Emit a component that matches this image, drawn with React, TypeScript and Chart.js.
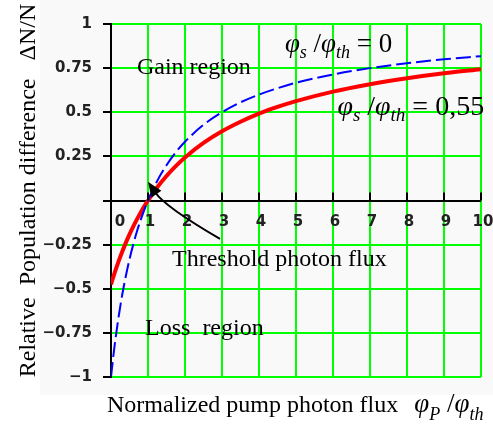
import React, { useEffect, useRef } from 'react';
import { Chart, registerables } from 'chart.js';
Chart.register(...registerables);

// Normalized pump photon flux (x) and relative population difference values
const xValues = [0, 0.05, 0.1, 0.2, 0.3, 0.4, 0.5, 0.6, 0.7, 0.8, 0.9, 1, 1.25, 1.5, 1.75, 2, 2.5, 3, 3.5, 4, 4.5, 5, 6, 7, 8, 9, 10];
const blueValues = [-1, -0.905, -0.818, -0.667, -0.538, -0.429, -0.333, -0.25, -0.176, -0.111, -0.053, 0, 0.111, 0.2, 0.273, 0.333, 0.429, 0.5, 0.556, 0.6, 0.636, 0.667, 0.714, 0.75, 0.778, 0.8, 0.818];
const redValues = [-0.476, -0.442, -0.409, -0.348, -0.292, -0.24, -0.192, -0.148, -0.107, -0.069, -0.033, 0, 0.075, 0.139, 0.195, 0.244, 0.326, 0.392, 0.446, 0.492, 0.53, 0.563, 0.617, 0.659, 0.693, 0.721, 0.744];

const xTickValues = [0, 1, 2, 3, 4, 5, 6, 7, 8, 9, 10];
const xTickLabels = ['0', '1', '2', '3', '4', '5', '6', '7', '8', '9', '10'];
const yTickValues = [-1, -0.75, -0.5, -0.25, 0, 0.25, 0.5, 0.75, 1];
const yTickLabels = ['\u22121', '\u22120.75', '\u22120.5', '\u22120.25', '', '0.25', '0.5', '0.75', '1'];

const yTitle = 'Relative  Population difference   \u0394N/N';
const xTitle = 'Normalized pump photon flux  ';
const gainText = 'Gain region';
const lossText = 'Loss  region';
const thresholdText = 'Threshold photon flux';

// annotation anchors in data coordinates
const gainAt = [0.7, 0.714];
const lossAt = [0.92, -0.763];
const thresholdAt = [1.65, -0.372];
const label0At = [4.7, 0.84];
const label55At = [6.12, 0.487];
const arrowStart = [2.946, -0.218];
const arrowCtrl = [1.46, -0.036];
const arrowTip = [1.0, 0.106];

const SERIF = '"Liberation Serif", "Times New Roman", serif';

type Part = { t: string; size: number; italic?: boolean; dy?: number };

function drawRich(ctx: CanvasRenderingContext2D, x: number, y: number, parts: Part[]) {
  let cx = x;
  ctx.textAlign = 'left';
  ctx.textBaseline = 'alphabetic';
  for (const p of parts) {
    ctx.font = `${p.italic ? 'italic ' : ''}${p.size}px ${SERIF}`;
    ctx.fillText(p.t, cx, y + (p.dy || 0));
    cx += ctx.measureText(p.t).width;
  }
}

function ratioParts(F: number, tail: string, sub1: string, subDy = 0.22): Part[] {
  const s = Math.round(F * 0.68);
  const dy = Math.round(F * subDy);
  return [
    { t: '\u03C6', size: F, italic: true },
    { t: sub1, size: s, italic: true, dy },
    { t: ' /', size: F },
    { t: '\u03C6', size: F, italic: true },
    { t: 'th', size: s, italic: true, dy },
    { t: tail, size: F },
  ];
}

const overlay = {
  id: 'overlay',
  beforeDraw(chart: any) {
    const ctx = chart.ctx;
    ctx.save();
    ctx.fillStyle = '#f9f9f9';
    ctx.fillRect(40, 0, chart.width - 40, 395);
    ctx.restore();
  },
  afterDatasetsDraw(chart: any) {
    const ctx: CanvasRenderingContext2D = chart.ctx;
    const xs = chart.scales.x;
    const ys = chart.scales.y;
    const px = (v: number) => xs.getPixelForValue(v);
    const py = (v: number) => ys.getPixelForValue(v);
    const area = chart.chartArea;
    ctx.save();
    // x tick marks (upward) and labels
    const y0 = py(0);
    ctx.strokeStyle = '#000';
    ctx.lineWidth = 2;
    ctx.fillStyle = '#222';
    ctx.font = 'bold 15px "DejaVu Sans", sans-serif';
    ctx.textAlign = 'center';
    ctx.textBaseline = 'middle';
    xTickValues.forEach((v, i) => {
      const x = px(v);
      ctx.beginPath();
      ctx.moveTo(x, y0 - 8);
      ctx.lineTo(x, y0);
      ctx.stroke();
      ctx.fillText(xTickLabels[i], x + (v === 0 ? 9 : 2), y0 + 22);
    });

    ctx.fillStyle = '#000';
    // region texts
    ctx.font = `24px ${SERIF}`;
    ctx.textAlign = 'left';
    ctx.textBaseline = 'alphabetic';
    ctx.fillText(gainText, px(gainAt[0]), py(gainAt[1]));
    ctx.fillText(lossText, px(lossAt[0]), py(lossAt[1]));
    ctx.fillText(thresholdText, px(thresholdAt[0]), py(thresholdAt[1]));

    drawRich(ctx, px(label0At[0]), py(label0At[1]), ratioParts(27, ' = 0', 's'));
    drawRich(ctx, px(label55At[0]), py(label55At[1]), ratioParts(28, ' = 0,55', 's'));

    // arrow
    const sx = px(arrowStart[0]), sy = py(arrowStart[1]);
    const cx = px(arrowCtrl[0]), cy = py(arrowCtrl[1]);
    const tx = px(arrowTip[0]), ty = py(arrowTip[1]);
    let dx = tx - cx, dy = ty - cy;
    const len = Math.hypot(dx, dy);
    dx /= len; dy /= len;
    const headLen = 15, headW = 6;
    const bx = tx - dx * headLen, by = ty - dy * headLen;
    ctx.beginPath();
    ctx.moveTo(sx, sy);
    ctx.quadraticCurveTo(cx, cy, bx + dx * 2, by + dy * 2);
    ctx.lineWidth = 2;
    ctx.strokeStyle = '#000';
    ctx.stroke();
    ctx.beginPath();
    ctx.moveTo(tx, ty);
    ctx.lineTo(bx - dy * headW, by + dx * headW);
    ctx.lineTo(bx + dy * headW, by - dx * headW);
    ctx.closePath();
    ctx.fill();

    // y title
    ctx.save();
    ctx.translate(35, (area.top + area.bottom) / 2 - 10);
    ctx.rotate(-Math.PI / 2);
    ctx.font = `24px ${SERIF}`;
    ctx.textAlign = 'center';
    ctx.textBaseline = 'alphabetic';
    ctx.fillText(yTitle, 0, 0);
    ctx.restore();

    // x title
    ctx.font = `24px ${SERIF}`;
    ctx.textAlign = 'left';
    ctx.textBaseline = 'alphabetic';
    const tw = ctx.measureText(xTitle).width;
    ctx.fillText(xTitle, 107, area.bottom + 35);
    drawRich(ctx, 107 + tw + 4, area.bottom + 35, ratioParts(27, '', 'P', 0.3));
    ctx.restore();
  },
};

export default function App() {
  const ref = useRef<HTMLCanvasElement | null>(null);
  useEffect(() => {
    if (!ref.current) return;
    const chart = new Chart(ref.current, {
      type: 'line',
      data: {
        datasets: [
          {
            label: '\u03C6s/\u03C6th = 0',
            data: xValues.map((x, i) => ({ x, y: blueValues[i] })),
            borderColor: '#0000ff',
            borderWidth: 2,
            borderDash: [15, 5],
            pointRadius: 0,
            cubicInterpolationMode: 'monotone',
            fill: false,
          },
          {
            label: '\u03C6s/\u03C6th = 0,55',
            data: xValues.map((x, i) => ({ x, y: redValues[i] })),
            borderColor: '#ff0000',
            borderWidth: 4,
            pointRadius: 0,
            cubicInterpolationMode: 'monotone',
            fill: false,
          },
        ],
      },
      options: {
        animation: false,
        responsive: false,
        layout: { padding: { left: 0, top: 24, right: 12, bottom: 48 } },
        plugins: { legend: { display: false }, tooltip: { enabled: false } },
        scales: {
          x: {
            type: 'linear',
            position: { y: 0 } as any,
            min: 0,
            max: 10,
            afterBuildTicks: (s: any) => {
              s.ticks = xTickValues.map((v) => ({ value: v }));
            },
            grid: {
              color: (c: any) => (c.tick && c.tick.value === 0 ? '#000' : '#00ff00'),
              lineWidth: 2,
              drawTicks: false,
            },
            border: { display: false },
            ticks: { display: false },
          },
          y: {
            type: 'linear',
            min: -1,
            max: 1,
            afterBuildTicks: (s: any) => {
              s.ticks = yTickValues.map((v) => ({ value: v }));
            },
            afterFit: (s: any) => {
              s.width = 111;
            },
            grid: {
              color: (c: any) => (c.tick && c.tick.value === 0 ? '#000' : '#00ff00'),
              lineWidth: 2,
              tickColor: '#000',
              tickLength: 8,
              tickWidth: 2,
            } as any,
            border: { display: true, color: '#000', width: 2 },
            ticks: {
              padding: 11,
              color: '#222',
              font: { family: '"DejaVu Sans", sans-serif', size: 15, weight: 'bold' },
              callback: (v: any) => {
                const i = yTickValues.indexOf(Number(v));
                return i >= 0 ? yTickLabels[i] : '';
              },
            },
          },
        },
      },
      plugins: [overlay],
    });
    return () => chart.destroy();
  }, []);
  return (
    <div style={{ position: 'absolute', left: 0, top: 0, width: 493, height: 425 }}>
      <canvas ref={ref} width={493} height={425} style={{ display: 'block' }} />
    </div>
  );
}
